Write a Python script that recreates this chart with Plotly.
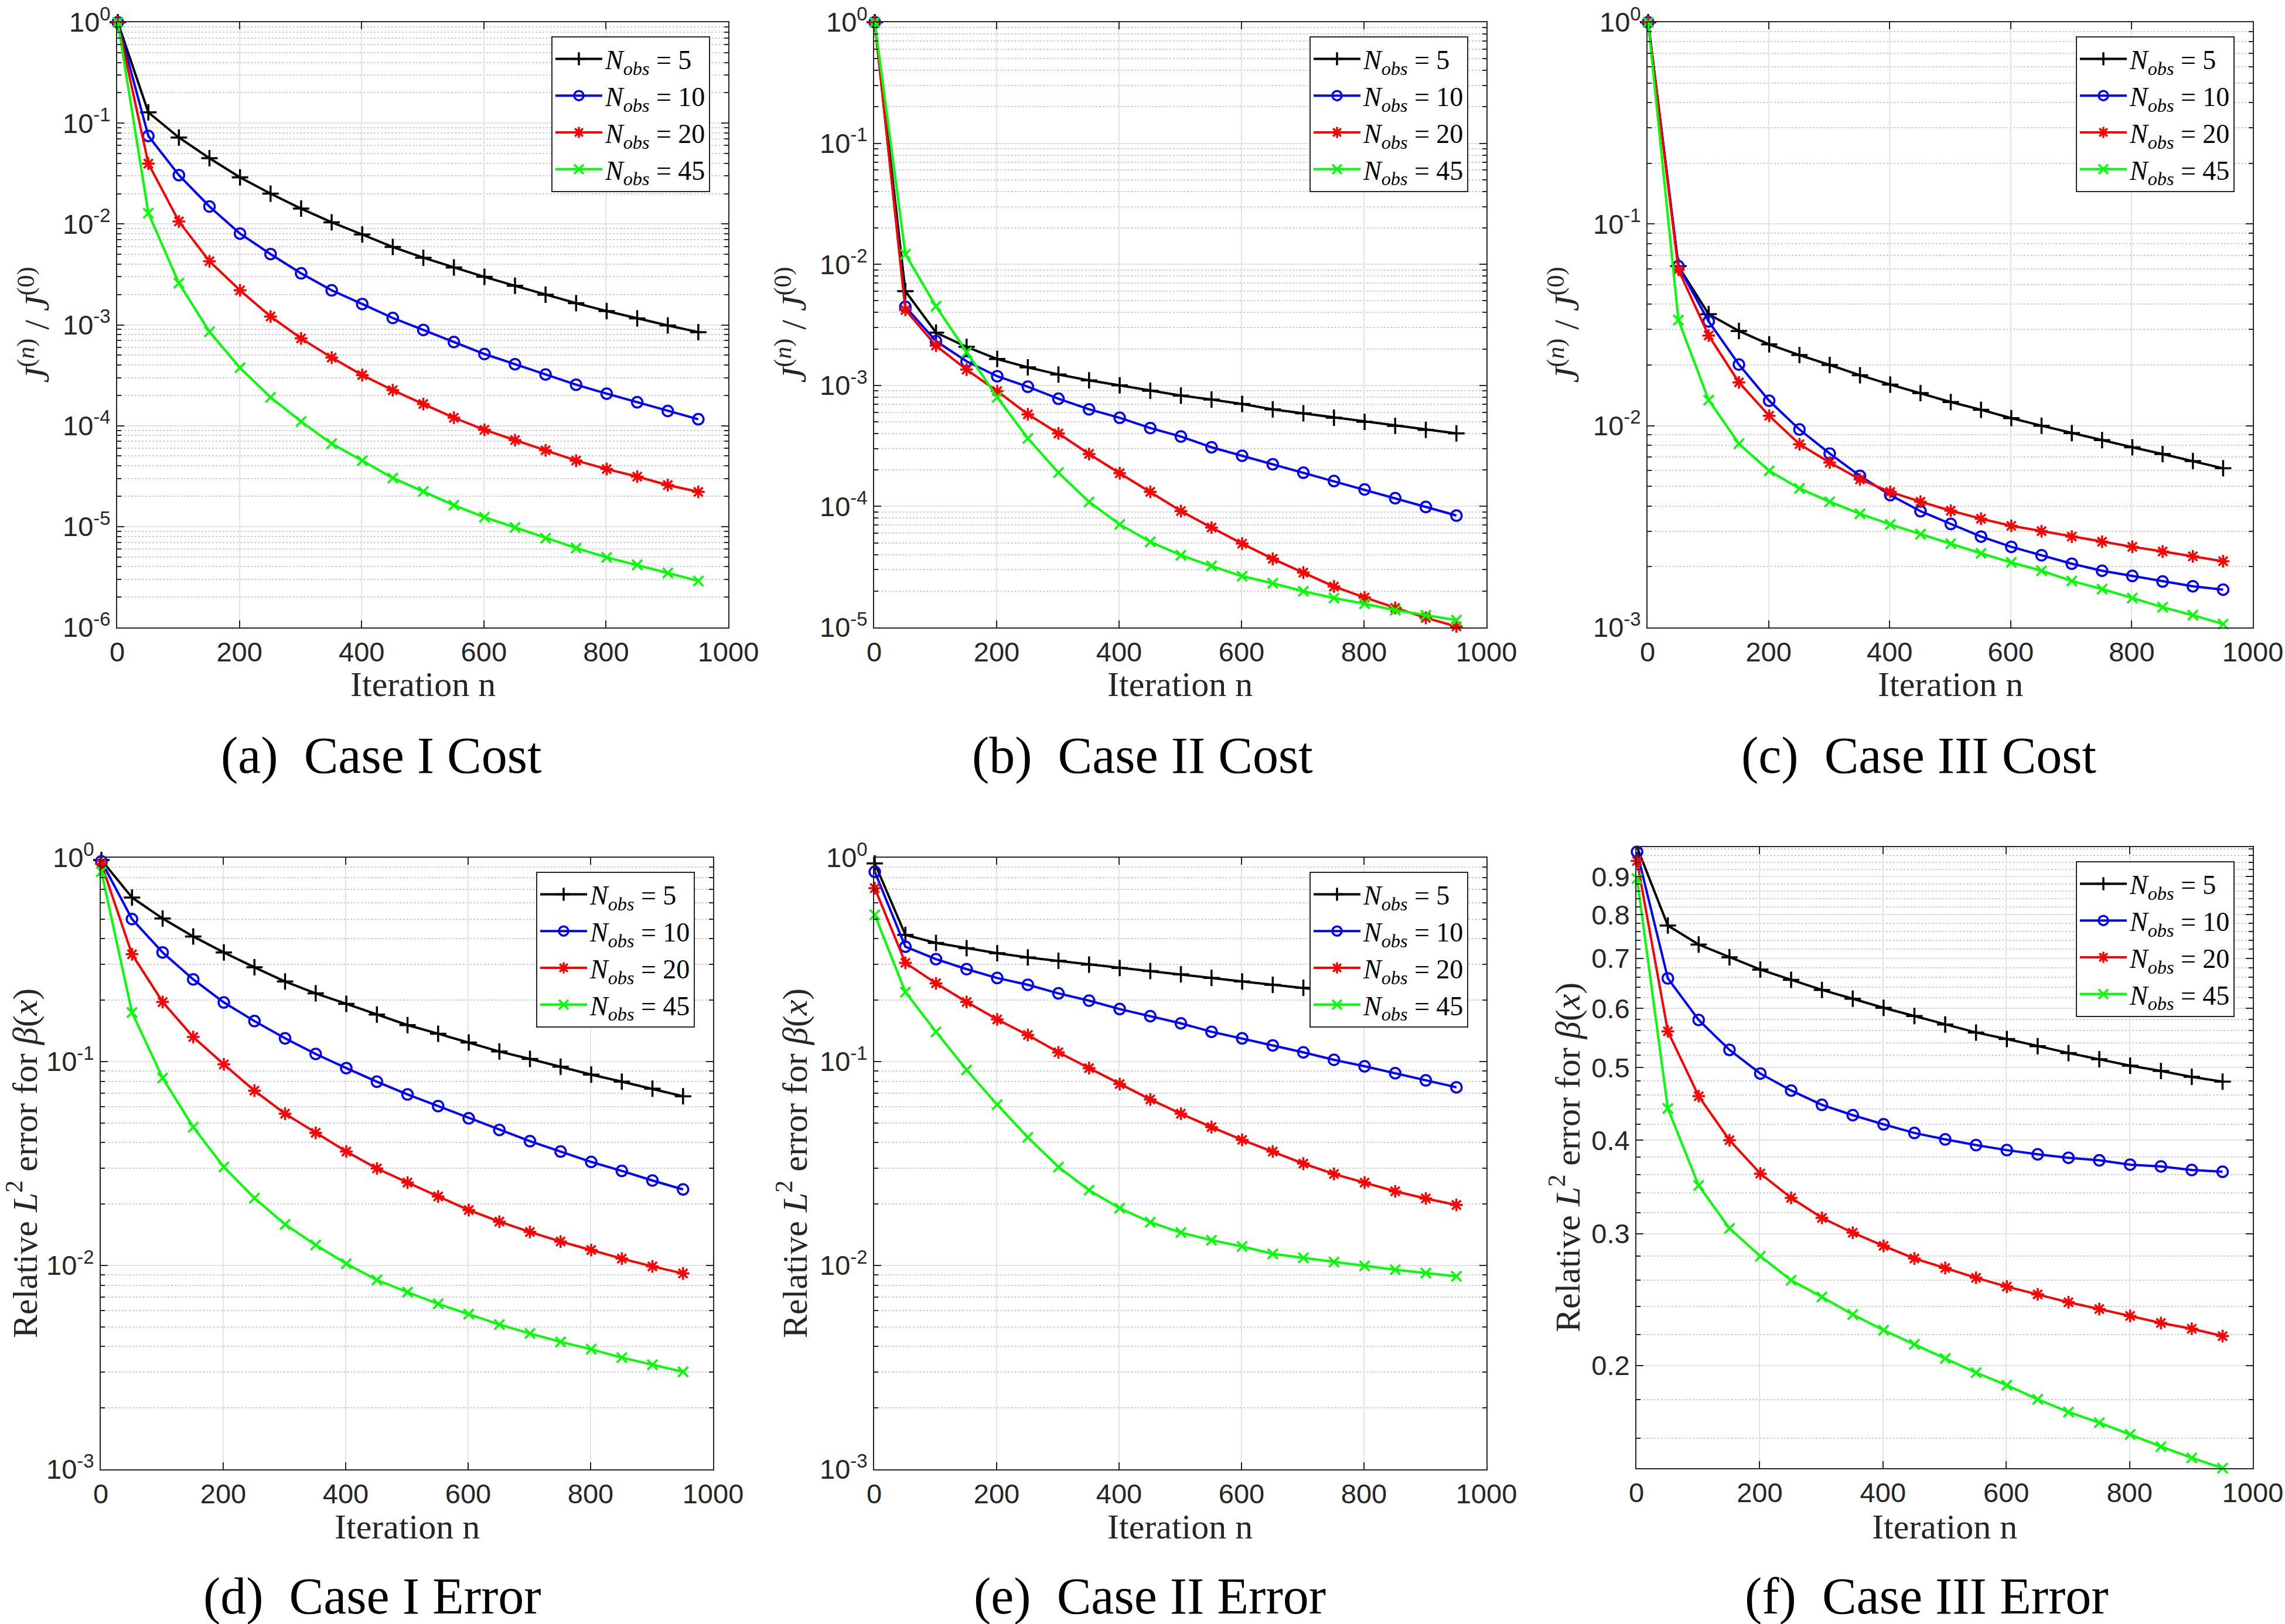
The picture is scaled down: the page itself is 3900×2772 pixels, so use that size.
import math
import plotly.graph_objects as go

W, H = 3900, 2772

iters = [1, 51, 101, 151, 201, 251, 301, 351, 401, 451, 501, 551, 601, 651, 701, 751, 801, 851, 901, 951]
obs_labels = ["5", "10", "20", "45"]

# (a) Case I cost
cost1_n5 = [1, 0.128, 0.072, 0.0449, 0.029, 0.020, 0.0142, 0.0104, 0.00787, 0.00592, 0.00463, 0.00371, 0.00299, 0.00244, 0.00199, 0.00164, 0.00137, 0.00116, 0.000986, 0.000847]
cost1_n10 = [1, 0.0746, 0.0305, 0.0149, 0.00803, 0.00503, 0.00324, 0.0022, 0.00161, 0.00117, 0.00089, 0.000676, 0.000514, 0.000407, 0.000322, 0.000255, 0.000208, 0.000171, 0.00014, 0.000116]
cost1_n20 = [1, 0.0397, 0.0106, 0.00427, 0.0022, 0.00121, 0.000734, 0.000474, 0.000318, 0.000225, 0.000164, 0.00012, 9.1e-5, 7.2e-5, 5.7e-5, 4.51e-5, 3.72e-5, 3.13e-5, 2.58e-5, 2.21e-5]
cost1_n45 = [1, 0.0128, 0.00259, 0.000855, 0.000375, 0.000191, 0.00011, 6.64e-5, 4.51e-5, 3.03e-5, 2.23e-5, 1.63e-5, 1.24e-5, 9.8e-6, 7.67e-6, 6.13e-6, 4.95e-6, 4.17e-6, 3.47e-6, 2.89e-6]

# (b) Case II cost
cost2_n5 = [1, 0.006, 0.00273, 0.00208, 0.00165, 0.00141, 0.00123, 0.0011, 0.001, 0.000903, 0.000824, 0.000763, 0.000702, 0.000634, 0.000587, 0.00054, 0.0005, 0.000463, 0.000429, 0.000401]
cost2_n10 = [1, 0.00446, 0.00232, 0.00158, 0.00119, 0.000975, 0.000776, 0.000634, 0.00054, 0.000444, 0.000378, 0.000308, 0.000262, 0.000223, 0.00019, 0.000162, 0.000138, 0.000117, 9.9e-5, 8.4e-5]
cost2_n20 = [1, 0.0042, 0.00213, 0.00135, 0.000897, 0.000577, 0.000401, 0.000271, 0.000188, 0.000132, 9.16e-5, 6.69e-5, 4.93e-5, 3.69e-5, 2.84e-5, 2.18e-5, 1.77e-5, 1.45e-5, 1.2e-5, 1.02e-5]
cost2_n45 = [1, 0.0121, 0.0045, 0.00188, 0.000796, 0.000365, 0.00019, 0.000109, 7.1e-5, 5.1e-5, 3.95e-5, 3.22e-5, 2.65e-5, 2.32e-5, 1.99e-5, 1.75e-5, 1.57e-5, 1.39e-5, 1.26e-5, 1.15e-5]

# (c) Case III cost
cost3_n5 = [1, 0.0618, 0.0357, 0.0295, 0.0253, 0.0224, 0.020, 0.0178, 0.016, 0.0145, 0.0131, 0.012, 0.0109, 0.0100, 0.0092, 0.00848, 0.00782, 0.00724, 0.00668, 0.00615]
cost3_n10 = [1, 0.0618, 0.0329, 0.0201, 0.0133, 0.00958, 0.00728, 0.00564, 0.00453, 0.00377, 0.00326, 0.00282, 0.00251, 0.00228, 0.00207, 0.00191, 0.0018, 0.00169, 0.0016, 0.00154]
cost3_n20 = [1, 0.0593, 0.028, 0.0164, 0.0112, 0.0081, 0.00657, 0.00542, 0.0047, 0.0042, 0.00379, 0.00346, 0.00319, 0.003, 0.00282, 0.00266, 0.00251, 0.00238, 0.00225, 0.00213]
cost3_n45 = [1, 0.0334, 0.0134, 0.00814, 0.00597, 0.00489, 0.0042, 0.00366, 0.00324, 0.0029, 0.0026, 0.00233, 0.0021, 0.00191, 0.0017, 0.00155, 0.0014, 0.00126, 0.00115, 0.00104]

# (d) Case I error
err1_n5 = [0.974, 0.638, 0.503, 0.411, 0.343, 0.290, 0.247, 0.216, 0.192, 0.170, 0.151, 0.137, 0.124, 0.112, 0.103, 0.0944, 0.0863, 0.0797, 0.0736, 0.0676]
err1_n10 = [0.96, 0.5, 0.343, 0.253, 0.195, 0.158, 0.130, 0.109, 0.0929, 0.0797, 0.069, 0.0605, 0.0527, 0.0462, 0.0407, 0.0362, 0.0322, 0.0291, 0.0261, 0.0236]
err1_n20 = [0.933, 0.336, 0.196, 0.132, 0.0969, 0.072, 0.0555, 0.0447, 0.0362, 0.0299, 0.0255, 0.0218, 0.0187, 0.0164, 0.0146, 0.0131, 0.0119, 0.0108, 0.00989, 0.00914]
err1_n45 = [0.853, 0.174, 0.0831, 0.0477, 0.0304, 0.0214, 0.0159, 0.0126, 0.0102, 0.00849, 0.0074, 0.00648, 0.00577, 0.00513, 0.00464, 0.00422, 0.00388, 0.00353, 0.00326, 0.00301]

# (e) Case II error
err2_n5 = [0.938, 0.418, 0.382, 0.360, 0.340, 0.324, 0.312, 0.299, 0.288, 0.278, 0.268, 0.257, 0.247, 0.238, 0.230, 0.222, 0.214, 0.206, 0.198, 0.188]
err2_n10 = [0.853, 0.366, 0.318, 0.284, 0.257, 0.238, 0.216, 0.199, 0.181, 0.167, 0.154, 0.140, 0.130, 0.120, 0.111, 0.102, 0.0948, 0.0877, 0.0809, 0.0748]
err2_n20 = [0.709, 0.305, 0.242, 0.196, 0.161, 0.135, 0.111, 0.0929, 0.0776, 0.0652, 0.0555, 0.0477, 0.0413, 0.0362, 0.0316, 0.0281, 0.0255, 0.0231, 0.0213, 0.0198]
err2_n45 = [0.525, 0.219, 0.140, 0.0910, 0.0615, 0.0425, 0.0304, 0.0234, 0.0191, 0.0163, 0.0145, 0.0133, 0.0124, 0.0114, 0.0109, 0.0104, 0.00995, 0.00953, 0.00918, 0.00885]

# (f) Case III error
err3_n5 = [0.985, 0.774, 0.730, 0.702, 0.676, 0.655, 0.635, 0.618, 0.601, 0.586, 0.571, 0.557, 0.546, 0.534, 0.523, 0.513, 0.503, 0.495, 0.486, 0.479]
err3_n10 = [0.971, 0.658, 0.579, 0.528, 0.491, 0.466, 0.446, 0.432, 0.420, 0.409, 0.401, 0.394, 0.388, 0.383, 0.379, 0.376, 0.371, 0.369, 0.365, 0.363]
err3_n20 = [0.944, 0.559, 0.458, 0.400, 0.361, 0.335, 0.315, 0.301, 0.289, 0.278, 0.270, 0.262, 0.255, 0.249, 0.243, 0.238, 0.233, 0.228, 0.224, 0.219]
err3_n45 = [0.894, 0.441, 0.348, 0.305, 0.280, 0.260, 0.247, 0.234, 0.223, 0.2135, 0.2044, 0.1957, 0.1883, 0.1803, 0.1734, 0.1678, 0.1618, 0.1559, 0.1506, 0.1459]

x_ticks = [0, 200, 400, 600, 800, 1000]
f_ticks = [0.2, 0.3, 0.4, 0.5, 0.6, 0.7, 0.8, 0.9]

colors = ["#000000", "#0000ff", "#ff0000", "#00ff00"]
symbols = ["cross-thin-open", "circle-open", "asterisk-open", "x-thin-open"]
msizes = [20, 18, 18, 17]

AX = "#262626"
SANS = "Liberation Sans, Arial, sans-serif"
SERIF = "Liberation Serif, Times New Roman, serif"

cost_title = "<i>J</i><sup>(<i>n</i>)</sup> / <i>J</i><sup>(0)</sup>"
err_title = "Relative <i>L</i><sup>2</sup> error for <i>β</i>(<i>x</i>)"

# pixel boxes (left, right, top, bottom) of each axes, y-title x, caption centre
panels = [
    dict(data=[cost1_n5, cost1_n10, cost1_n20, cost1_n45], box=(200, 1243, 38, 1071), dec=(-6, 0),
         ytitle=cost_title, ytx=58, cap="(a)\u00a0 Case I Cost", capxy=(650, 1289), xty=1168),
    dict(data=[cost2_n5, cost2_n10, cost2_n20, cost2_n45], box=(1492, 2537, 38, 1071), dec=(-5, 0),
         ytitle=cost_title, ytx=1350, cap="(b)\u00a0 Case II Cost", capxy=(1950, 1289), xty=1168),
    dict(data=[cost3_n5, cost3_n10, cost3_n20, cost3_n45], box=(2812, 3845, 38, 1071), dec=(-3, 0),
         ytitle=cost_title, ytx=2669, cap="(c)\u00a0 Case III Cost", capxy=(3275, 1289), xty=1168),
    dict(data=[err1_n5, err1_n10, err1_n20, err1_n45], box=(172, 1217, 1464, 2508), dec=(-3, 0),
         ytitle=err_title, ytx=38, cap="(d)\u00a0 Case I Error", capxy=(635, 2724), xty=2606),
    dict(data=[err2_n5, err2_n10, err2_n20, err2_n45], box=(1492, 2537, 1464, 2508), dec=(-3, 0),
         ytitle=err_title, ytx=1352, cap="(e)\u00a0 Case II Error", capxy=(1962, 2724), xty=2606),
    dict(data=[err3_n5, err3_n10, err3_n20, err3_n45], box=(2793, 3845, 1446, 2506), dec=None,
         ytitle=err_title, ytx=2671, cap="(f)\u00a0 Case III Error", capxy=(3288, 2724), xty=2606),
]

fig = go.Figure()
annotations = []
layout = dict(width=W, height=H, margin=dict(l=0, r=0, t=0, b=0, autoexpand=False),
              paper_bgcolor="white", plot_bgcolor="white", showlegend=True)

for i, p in enumerate(panels):
    k = "" if i == 0 else str(i + 1)
    xa, ya = "x" + k, "y" + k
    leg = "legend" + k
    l, r, t, b = p["box"]

    for j, ys in enumerate(p["data"]):
        fig.add_trace(go.Scatter(
            x=iters, y=ys, xaxis=xa, yaxis=ya, legend=leg,
            mode="lines+markers", cliponaxis=False,
            name="<i>N</i><sub><i>obs</i></sub> = " + obs_labels[j],
            line=dict(color=colors[j], width=4),
            marker=dict(symbol=symbols[j], size=msizes[j], color=colors[j],
                        line=dict(color=colors[j], width=3.5)),
        ))

    common = dict(showline=True, linecolor=AX, linewidth=2, mirror="allticks",
                  ticks="inside", tickcolor=AX, tickwidth=2, ticklen=12,
                  showgrid=True, gridcolor="#e3e3e3", gridwidth=2, zeroline=False,
                  automargin=False, ticklabeloverflow="allow",
                  tickfont=dict(family=SANS, size=47, color=AX))

    layout["xaxis" + k] = dict(common, domain=[l / W, r / W], anchor=ya, range=[0, 1000],
                               tickmode="array", tickvals=x_ticks)

    if p["dec"] is not None:
        lo, hi = p["dec"]
        majors = [10.0 ** e for e in range(lo, hi + 1)]
        labels = ["10<sup>%d</sup>" % e for e in range(lo, hi + 1)]
        minors = [d * 10.0 ** e for e in range(lo, hi) for d in range(2, 10)]
        yr = [lo, hi]
    else:
        majors = f_ticks
        labels = ["%.1f" % v for v in f_ticks]
        minors = [v / 100 for v in range(14, 100, 2) if v % 10 != 0]
        allv = [v for ys in p["data"] for v in ys]
        yr = [math.log10(min(allv)), math.log10(max(allv))]

    layout["yaxis" + k] = dict(common, domain=[1 - b / H, 1 - t / H], anchor=xa, type="log",
                               range=yr, tickmode="array", tickvals=majors, ticktext=labels,
                               minor=dict(tickmode="array", tickvals=minors, ticks="inside",
                                          ticklen=7, tickcolor=AX, tickwidth=2, showgrid=True,
                                          gridcolor="#cfcfcf", gridwidth=2, griddash="dot"))

    layout[leg] = dict(x=(r - 31) / W, y=1 - (t + 24) / H, xanchor="right", yanchor="top",
                       bgcolor="white", bordercolor=AX, borderwidth=2,
                       font=dict(family=SERIF, size=46, color="black"),
                       tracegroupgap=0, itemwidth=80)

    annotations.append(dict(xref="paper", yref="paper", x=p["ytx"] / W, y=1 - (t + b) / 2 / H,
                            text=p["ytitle"], textangle=-90, showarrow=False,
                            xanchor="center", yanchor="middle",
                            font=dict(family=SERIF, size=60, color=AX)))
    annotations.append(dict(xref="paper", yref="paper", x=(l + r) / 2 / W, y=1 - p["xty"] / H,
                            text="Iteration n", showarrow=False, xanchor="center", yanchor="middle",
                            font=dict(family=SERIF, size=60, color=AX)))
    cx, cy = p["capxy"]
    annotations.append(dict(xref="paper", yref="paper", x=cx / W, y=1 - cy / H,
                            text=p["cap"], showarrow=False, xanchor="center", yanchor="middle",
                            font=dict(family=SERIF, size=88, color="black")))

layout["annotations"] = annotations
fig.update_layout(**layout)

# drop the default page margin so the figure sits flush with the window
fig.write_html("out.html", config={"displayModeBar": False},
               post_script="document.body.style.margin='0';")
